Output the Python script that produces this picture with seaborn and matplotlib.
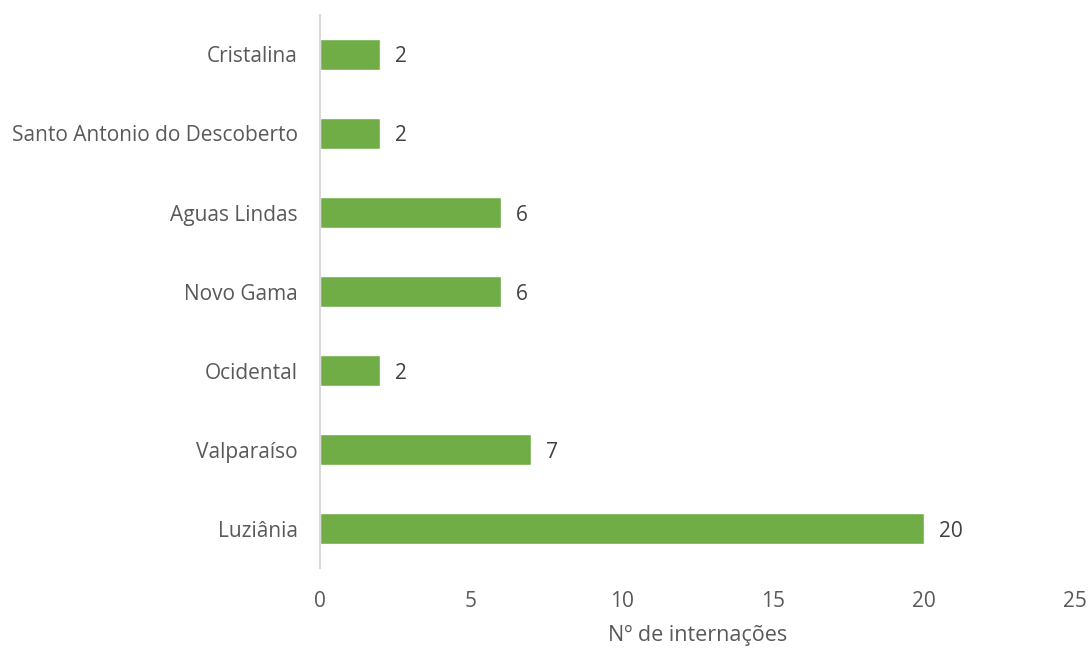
import matplotlib
matplotlib.use("Agg")
import matplotlib.pyplot as plt
import seaborn as sns
import pandas as pd

municipios = ["Cristalina", "Santo Antonio do Descoberto", "Aguas Lindas",
              "Novo Gama", "Ocidental", "Valparaíso", "Luziânia"]
internacoes = [2, 2, 6, 6, 2, 7, 20]
x_ticks = [0, 5, 10, 15, 20, 25]
x_label = "Nº de internações"

df = pd.DataFrame({"municipio": municipios, "internacoes": internacoes})

sns.set_style("white")
plt.rcParams["font.family"] = ["Open Sans", "DejaVu Sans"]
text_color = "#595959"

fig = plt.figure(figsize=(10.89, 6.48), dpi=100)
ax = fig.add_axes([0.2938, 0.123, 0.6932, 0.854])

sns.barplot(data=df, y="municipio", x="internacoes", orient="h",
            color="#70AD47", saturation=1, width=0.39, ax=ax)

for patch, val in zip(ax.patches, internacoes):
    y = patch.get_y() + patch.get_height() / 2
    ax.text(val + 0.5, y, str(val), va="center_baseline", ha="left",
            fontsize=15, color="#404040")

ax.set_xlim(0, 25)
ax.set_xticks(x_ticks)
ax.set_xticklabels([str(t) for t in x_ticks])
ax.set_xlabel(x_label, fontsize=15.5, color=text_color, labelpad=10)
ax.set_ylabel("")
ax.tick_params(axis="both", length=0, labelsize=15, colors=text_color)
ax.tick_params(axis="y", pad=16)
ax.tick_params(axis="x", pad=16)

for side in ["top", "right", "bottom"]:
    ax.spines[side].set_visible(False)
ax.spines["left"].set_color("#D9D9D9")
ax.spines["left"].set_linewidth(1.5)

fig.savefig("out.png", dpi=100)
